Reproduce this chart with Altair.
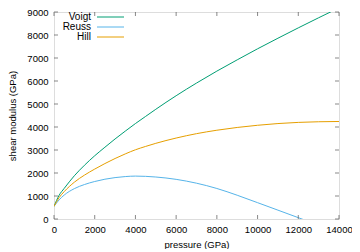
import altair as alt
import pandas as pd

# ---- data ----
pressure = [0, 250, 500, 1000, 1500, 2000, 2500, 3000, 3500, 4000, 4500, 5000, 6000,
            7000, 8000, 9000, 10000, 11000, 12000, 13000, 14000]
voigt = [550, 1030, 1330, 1880, 2340, 2750, 3120, 3480, 3820, 4150, 4460, 4770, 5360,
         5910, 6430, 6920, 7400, 7860, 8310, 8750, 9180]
reuss = [550, 830, 1040, 1320, 1500, 1630, 1730, 1800, 1845, 1865, 1854, 1826, 1724,
         1557, 1327, 1033, 710, 385, 58, -270, -600]
hill = [550, 930, 1190, 1600, 1910, 2170, 2410, 2630, 2830, 3010, 3155, 3290, 3520,
        3710, 3860, 3980, 4075, 4150, 4200, 4228, 4240]

series_names = ["Voigt", "Reuss", "Hill"]
series_colors = ["#009e73", "#56b4e9", "#e69f00"]
x_ticks = [0, 2000, 4000, 6000, 8000, 10000, 12000, 14000]
y_ticks = [0, 1000, 2000, 3000, 4000, 5000, 6000, 7000, 8000, 9000]

W, H = 285, 207
FONT = "Liberation Sans, Arial, Helvetica, sans-serif"
FS = 9.5
BORDER = "#555555"

rows = []
for name, vals in zip(series_names, [voigt, reuss, hill]):
    for p, v in zip(pressure, vals):
        rows.append({"pressure": p, "modulus": v, "series": name})
df = pd.DataFrame(rows)

xscale = alt.Scale(domain=[0, 14000], nice=False, zero=False)
yscale = alt.Scale(domain=[0, 9000], nice=False, zero=False)

xaxis = alt.Axis(values=x_ticks, title="pressure (GPa)", format="d",
                 ticks=False, domain=False, grid=False, labelOverlap=False,
                 labelFlush=False, labelBound=False,
                 labelFont=FONT, labelFontSize=FS, labelColor="black",
                 labelPadding=5, titleFont=FONT, titleFontSize=FS,
                 titleFontWeight="normal", titleColor="black", titlePadding=6)
yaxis = alt.Axis(values=y_ticks, title="shear modulus (GPa)", format="d",
                 ticks=False, domain=False, grid=False, labelOverlap=False,
                 labelFlush=False, labelBound=False,
                 labelFont=FONT, labelFontSize=FS, labelColor="black",
                 labelPadding=6, titleFont=FONT, titleFontSize=FS,
                 titleFontWeight="normal", titleColor="black", titlePadding=9)

lines = alt.Chart(df).mark_line(clip=True, strokeWidth=1, interpolate="monotone").encode(
    x=alt.X("pressure:Q", scale=xscale, axis=xaxis),
    y=alt.Y("modulus:Q", scale=yscale, axis=yaxis),
    color=alt.Color("series:N", scale=alt.Scale(domain=series_names, range=series_colors),
                    legend=None),
)

xt = pd.DataFrame({"pressure": x_ticks})
yt = pd.DataFrame({"modulus": y_ticks})
tick_bottom = alt.Chart(xt).mark_tick(orient="vertical", size=4, thickness=1, color=BORDER).encode(
    x=alt.X("pressure:Q", scale=xscale, axis=xaxis), y=alt.value(H - 2))
tick_top = alt.Chart(xt).mark_tick(orient="vertical", size=4, thickness=1, color=BORDER).encode(
    x=alt.X("pressure:Q", scale=xscale, axis=xaxis), y=alt.value(2))
tick_left = alt.Chart(yt).mark_tick(orient="horizontal", size=4, thickness=1, color=BORDER).encode(
    y=alt.Y("modulus:Q", scale=yscale, axis=yaxis), x=alt.value(2))
tick_right = alt.Chart(yt).mark_tick(orient="horizontal", size=4, thickness=1, color=BORDER).encode(
    y=alt.Y("modulus:Q", scale=yscale, axis=yaxis), x=alt.value(W - 2))

legend_layers = []
for i, (name, col) in enumerate(zip(series_names, series_colors)):
    ly = 5 + 10 * i
    legend_layers.append(
        alt.Chart(pd.DataFrame({"name": [name]})).mark_text(
            align="right", baseline="middle", font=FONT, fontSize=FS + 0.5, color="black"
        ).encode(text="name:N", x=alt.value(37), y=alt.value(ly))
    )
    legend_layers.append(
        alt.Chart(pd.DataFrame({"name": [name]})).mark_rule(color=col, strokeWidth=1).encode(
            x=alt.value(43), x2=alt.value(70), y=alt.value(ly))
    )

chart = alt.layer(lines, tick_bottom, tick_top, tick_left, tick_right, *legend_layers).properties(
    width=W, height=H,
    autosize=alt.AutoSizeParams(type="none"),
    padding={"left": 46, "top": 4, "right": 13, "bottom": 30},
).configure_view(stroke=BORDER, strokeWidth=1.2).configure(background="white")

chart.save("out.html", embed_options={"renderer": "svg", "actions": False})
